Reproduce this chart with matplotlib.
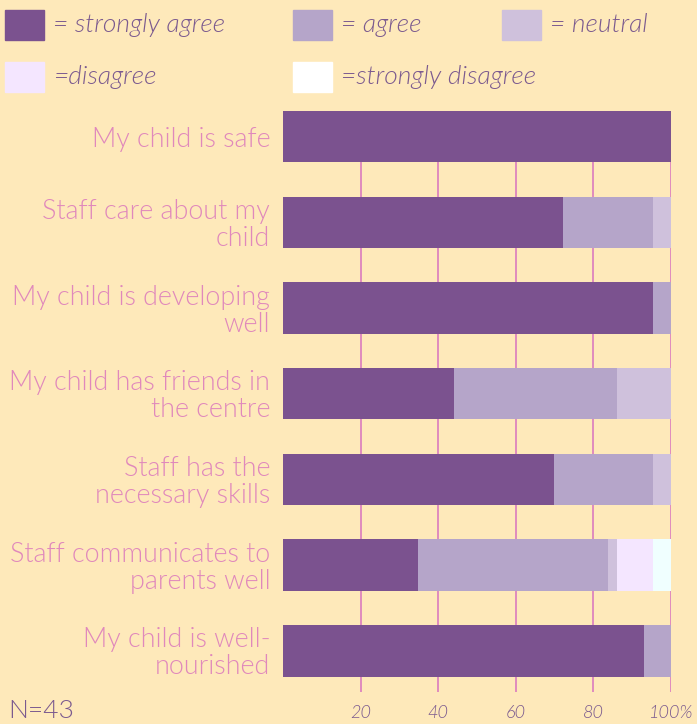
import matplotlib
matplotlib.use("Agg")
import matplotlib.pyplot as plt
from matplotlib.patches import Rectangle
import numpy as np

categories = ["My child is safe", "Staff care about my\nchild", "My child is developing\nwell",
              "My child has friends in\nthe centre", "Staff has the\nnecessary skills",
              "Staff communicates to\nparents well", "My child is well-\nnourished"]
N = 43
strongly_agree = [43, 31, 41, 19, 30, 15, 40]
agree = [0, 10, 2, 18, 11, 21, 3]
neutral = [0, 2, 0, 6, 2, 1, 0]
disagree = [0, 0, 0, 0, 0, 4, 0]
strongly_disagree = [0, 0, 0, 0, 0, 2, 0]
series_names = ["= strongly agree", "= agree", "= neutral", "=disagree", "=strongly disagree"]
series_colors = ["#7B528F", "#B5A5C9", "#CFC1DC", "#F4E6FF", "#F0FFFF"]
legend_colors = ["#7B528F", "#B5A5C9", "#CFC1DC", "#F4E6FF", "#FFFFFF"]
xticks = [20, 40, 60, 80, 100]
xticklabels = ["20", "40", "60", "80", "100%"]

BG = "#FEE9BA"
PINK = "#E088BC"
PURPLE = "#7B5A8F"
W, H = 697, 724
WT = 300

plt.rcParams['font.family'] = ['Lato', 'DejaVu Sans']
fig = plt.figure(figsize=(W / 100, H / 100), dpi=100, facecolor=BG)
ax = fig.add_axes([283 / W, 1 - 692 / H, (671 - 283) / W, (692 - 111) / H])
ax.set_facecolor(BG)

data = np.array([strongly_agree, agree, neutral, disagree, strongly_disagree], dtype=float) / N * 100
y = np.arange(len(categories))
left = np.zeros(len(categories))
for vals, col in zip(data, series_colors):
    ax.barh(y, vals, left=left, height=0.6, color=col, zorder=3)
    left += vals

ax.set_xlim(0, 100)
ax.set_ylim(6.48, -0.3)
ax.set_xticks(xticks)
ax.set_xticklabels(xticklabels, fontsize=13, style='italic', color=PURPLE, fontweight=WT)
ax.tick_params(axis='x', length=0, pad=9)
ax.set_yticks([])
for s in ax.spines.values():
    s.set_visible(False)
ax.grid(axis='x', color="#E08BBE", linewidth=1.4, zorder=0)

for yi, lab in zip(y, categories):
    ax.text(-3.3, yi + 0.03, lab, ha='right', va='center', fontsize=19.4, color=PINK,
            fontweight=WT, linespacing=1.1, transform=ax.transData)

# legend
legend_pos = [(5, 10), (293, 10), (502, 10), (5, 62), (293, 62)]
for (lx, ly), name, col in zip(legend_pos, series_names, legend_colors):
    fig.patches.append(Rectangle((lx / W, 1 - (ly + 30) / H), 39 / W, 30 / H,
                                 transform=fig.transFigure, color=col))
    fig.text((lx + 48) / W, 1 - (ly + 15) / H, name, ha='left', va='center',
             fontsize=19, style='italic', color=PURPLE, fontweight=WT)

fig.text(8 / W, 1 - 711 / H, "N=" + str(N), ha='left', va='center', fontsize=19,
         color=PURPLE, fontweight=WT)

fig.savefig("out.png", dpi=100, facecolor=BG)
